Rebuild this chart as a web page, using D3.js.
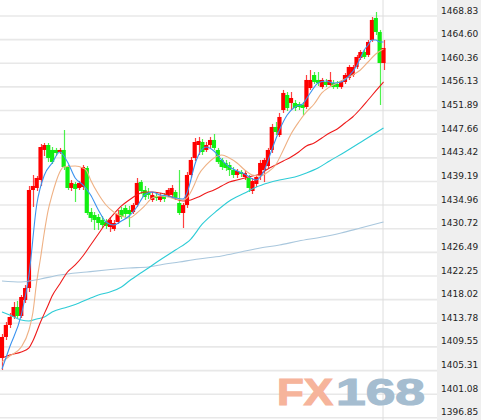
<!DOCTYPE html>
<html><head><meta charset="utf-8">
<script src="https://cdn.jsdelivr.net/npm/d3@7"></script>
<style>html,body{margin:0;padding:0;background:#fff;overflow:hidden}</style>
</head><body><svg id="c" width="481" height="420"></svg>
<script>
const tickLabels = ["1468.83","1464.60","1460.36","1456.13","1451.89","1447.66","1443.42","1439.19","1434.96","1430.72","1426.49","1422.25","1418.02","1413.78","1409.55","1405.31","1401.08","1396.85"];

const opens = [1407.56,1411.33,1413.48,1414.91,1416.70,1415.09,1417.95,1420.10,1437.66,1438.02,
1439.45,1444.83,1445.72,1444.83,1444.83,1444.47,1444.83,1441.78,1438.02,1438.74,
1438.02,1438.20,1441.60,1433.72,1433.18,1432.82,1432.29,1431.93,1431.03,1430.67,
1431.93,1434.08,1434.44,1434.08,1433.72,1434.97,1439.09,1437.66,1437.30,1435.87,
1436.59,1435.87,1436.59,1436.77,1436.77,1437.30,1435.33,1433.54,1434.97,1440.35,
1443.39,1445.72,1446.26,1444.83,1445.72,1446.62,1444.83,1443.04,1442.50,1442.14,
1441.24,1440.35,1440.89,1439.99,1439.81,1437.48,1438.74,1440.17,1441.24,1441.96,
1444.83,1448.95,1447.51,1451.99,1454.68,1453.25,1453.25,1453.07,1452.89,1452.53,
1455.93,1458.26,1457.37,1456.11,1457.01,1456.47,1456.83,1456.65,1456.11,1457.01,
1457.73,1458.26,1459.70,1461.31,1462.38,1461.85,1464.53,1468.48,1465.97,1460.41];
const closes = [1411.33,1413.48,1414.91,1416.70,1415.09,1418.49,1420.10,1437.66,1438.38,1439.81,
1445.36,1445.72,1443.39,1442.68,1444.29,1444.83,1441.78,1438.02,1438.92,1437.84,
1438.92,1441.78,1433.54,1432.65,1432.29,1431.75,1431.39,1431.21,1432.29,1431.75,
1433.36,1432.82,1433.36,1433.36,1434.97,1438.92,1437.48,1436.41,1436.77,1436.77,
1436.23,1436.59,1436.05,1437.66,1438.02,1436.23,1433.54,1434.97,1440.35,1443.04,
1446.26,1446.44,1444.47,1445.72,1446.62,1445.19,1442.68,1441.78,1441.60,1441.24,
1440.35,1441.07,1440.53,1440.71,1438.02,1439.27,1439.99,1442.50,1443.04,1444.83,
1448.95,1448.05,1450.74,1455.04,1452.35,1454.14,1452.35,1452.53,1452.35,1457.37,
1457.37,1457.01,1456.83,1457.37,1456.47,1457.37,1456.11,1456.11,1457.01,1458.26,
1459.70,1459.70,1461.49,1462.38,1461.49,1464.18,1468.12,1465.97,1460.41,1463.10];
const highs = [1411.86,1414.01,1415.63,1417.60,1417.78,1418.85,1420.64,1438.38,1440.35,1440.17,
1445.90,1446.08,1446.08,1445.36,1445.19,1445.19,1448.41,1442.14,1439.45,1439.09,
1439.27,1442.14,1441.96,1434.44,1433.72,1433.36,1433.00,1432.47,1432.82,1432.29,
1434.08,1434.62,1434.97,1434.80,1435.33,1439.81,1439.45,1438.38,1438.02,1437.30,
1437.12,1437.12,1437.12,1438.02,1438.56,1437.66,1441.24,1435.33,1440.89,1443.57,
1446.98,1447.16,1446.80,1446.26,1447.16,1447.69,1445.19,1443.39,1443.04,1442.68,
1441.78,1441.42,1441.24,1441.24,1440.35,1439.81,1440.35,1443.04,1443.39,1445.19,
1449.49,1449.84,1451.46,1455.58,1455.22,1455.22,1453.78,1453.43,1453.43,1458.26,
1459.16,1458.80,1458.80,1457.73,1457.55,1458.80,1457.37,1457.19,1457.37,1458.62,
1460.06,1460.06,1461.85,1462.74,1462.74,1464.53,1468.65,1469.55,1466.33,1464.53];
const lows = [1405.41,1410.79,1412.94,1414.55,1414.73,1414.73,1417.42,1419.39,1434.62,1437.48,
1438.38,1443.75,1442.68,1442.32,1443.75,1444.11,1441.24,1437.66,1437.48,1435.51,
1437.66,1437.66,1433.18,1431.93,1430.50,1430.50,1430.85,1430.67,1430.14,1430.32,
1431.57,1432.47,1432.65,1431.03,1433.36,1434.62,1436.94,1435.87,1436.05,1435.51,
1435.69,1435.51,1435.51,1436.41,1436.41,1435.87,1433.18,1430.85,1434.44,1439.81,
1442.86,1443.93,1443.93,1444.47,1445.19,1444.83,1442.32,1441.24,1441.07,1440.17,
1439.81,1439.81,1439.99,1439.45,1437.30,1436.94,1438.20,1439.45,1439.09,1441.60,
1444.29,1447.51,1447.16,1451.46,1451.81,1451.99,1451.81,1451.99,1451.10,1452.17,
1455.58,1456.65,1456.29,1455.76,1456.11,1456.11,1455.76,1455.76,1455.76,1456.65,
1457.37,1457.91,1459.34,1460.95,1461.13,1461.49,1464.18,1465.43,1452.89,1459.16];

// moving-average lines: [candle index, value]
const ma5 = [[0,1405.59],[2,1409.53],[5,1415.27],[7,1422.43],[9,1434.97],[11,1440.35],[13,1442.50],[15,1444.47],[17,1442.68],[19,1439.81],[21,1438.56],[23,1436.77],[25,1434.08],[27,1431.93],[29,1431.39],[31,1432.11],[33,1433.00],[35,1434.62],[37,1436.77],[39,1437.30],[41,1436.77],[43,1436.59],[45,1436.23],[47,1436.05],[48,1437.12],[49,1439.45],[50,1442.14],[51,1443.93],[53,1445.36],[55,1444.65],[57,1443.04],[59,1441.78],[61,1441.07],[63,1440.53],[65,1439.63],[66,1439.45],[67,1439.99],[68,1441.07],[69,1442.86],[70,1444.83],[72,1448.41],[74,1451.10],[76,1452.53],[78,1453.07],[80,1455.04],[82,1456.83],[84,1457.19],[86,1456.83],[88,1457.01],[90,1458.08],[92,1459.88],[93,1461.31],[94,1462.74],[95,1463.64],[96,1464.53],[97,1464.53],[98,1464.18],[99,1464.18]];
const ma10 = [[0,1406.85],[2,1407.92],[5,1409.53],[7,1412.58],[8,1415.63],[9,1421.18],[10,1425.48],[11,1430.14],[12,1434.08],[13,1436.77],[14,1439.09],[15,1440.89],[16,1441.78],[19,1441.96],[21,1441.60],[22,1441.07],[23,1439.45],[25,1436.94],[27,1434.97],[29,1433.72],[31,1433.00],[33,1432.65],[35,1433.54],[37,1434.80],[39,1436.23],[41,1436.59],[43,1436.41],[45,1436.05],[47,1435.87],[48,1436.23],[49,1437.30],[50,1438.74],[51,1440.35],[53,1442.14],[55,1443.39],[57,1443.93],[59,1443.39],[61,1442.50],[63,1441.24],[65,1440.35],[67,1440.17],[69,1440.89],[71,1442.14],[73,1444.83],[75,1447.69],[77,1449.84],[79,1451.64],[81,1453.07],[83,1455.04],[85,1456.11],[87,1456.83],[89,1457.55],[91,1458.26],[93,1459.16],[95,1460.59],[97,1462.03],[99,1462.92]];
const ma20 = [[0,1407.56],[2,1408.10],[5,1408.64],[7,1409.36],[8,1410.61],[10,1414.01],[12,1417.06],[13,1418.67],[15,1420.82],[17,1422.97],[19,1424.23],[21,1425.84],[23,1427.81],[25,1429.78],[27,1431.75],[29,1433.36],[31,1434.80],[33,1435.87],[35,1436.77],[37,1437.30],[39,1437.30],[41,1437.12],[43,1436.77],[45,1436.05],[47,1435.69],[49,1435.87],[51,1436.41],[53,1437.12],[55,1437.66],[57,1438.38],[59,1439.09],[61,1439.45],[63,1439.81],[65,1440.17],[67,1440.53],[69,1441.42],[71,1442.14],[73,1442.86],[75,1443.57],[77,1444.47],[79,1445.54],[81,1446.08],[83,1446.98],[85,1447.87],[87,1448.59],[89,1449.66],[91,1450.74],[93,1452.17],[95,1453.78],[97,1455.40],[99,1457.01]];
const ma60 = [[0,1415.81],[2,1415.27],[5,1414.37],[7,1414.19],[9,1414.55],[11,1414.91],[13,1415.81],[17,1416.70],[20,1417.42],[23,1418.31],[25,1418.85],[28,1419.39],[31,1420.28],[33,1421.36],[36,1422.79],[38,1423.69],[41,1425.12],[45,1426.91],[49,1428.88],[52,1431.57],[56,1434.08],[59,1435.69],[63,1437.12],[66,1438.20],[69,1438.92],[72,1439.45],[76,1439.99],[79,1440.71],[82,1441.60],[85,1442.86],[89,1444.47],[94,1446.62],[99,1448.77]];
const ma120 = [[0,1421.36],[5,1421.18],[10,1421.72],[15,1422.43],[22,1422.97],[27,1423.33],[33,1423.69],[38,1423.87],[41,1424.23],[46,1424.76],[51,1425.30],[57,1425.84],[62,1426.55],[67,1427.27],[72,1427.81],[77,1428.52],[83,1429.24],[88,1429.96],[93,1430.85],[99,1431.93]];

const svg = d3.select("#c");
const W = 481, H = 420, plotRight = 437;
const y = d3.scaleLinear().domain([1396.85, 1468.83]).range([417.8, 16]);
const x = d3.scaleLinear().domain([0, opens.length - 1]).range([2, 383.5]);
const tickVals = tickLabels.map(Number);

// gridlines
svg.append("g").selectAll("line").data(tickVals).join("line")
  .attr("x1", 0).attr("x2", plotRight)
  .attr("y1", d => y(d)).attr("y2", d => y(d))
  .attr("stroke", "#e8e8e8").attr("stroke-width", 1.6);

// crosshair vertical line at last candle
svg.append("line").attr("x1", x(opens.length - 1) - 0.5).attr("x2", x(opens.length - 1) - 0.5)
  .attr("y1", 0).attr("y2", H).attr("stroke", "#dedede").attr("stroke-width", 1);

// watermark
svg.append("text").attr("x", 277).attr("y", 405).text("FX")
  .attr("font-family", "Liberation Sans, Arial, sans-serif").attr("font-weight", "bold")
  .attr("font-size", 37).attr("textLength", 56).attr("lengthAdjust", "spacingAndGlyphs")
  .attr("fill", "#f6b49b").attr("stroke", "#f6b49b").attr("stroke-width", 1.2);
svg.append("text").attr("x", 336).attr("y", 405).text("168")
  .attr("font-family", "Liberation Sans, Arial, sans-serif").attr("font-weight", "bold")
  .attr("font-size", 37).attr("textLength", 89).attr("lengthAdjust", "spacingAndGlyphs")
  .attr("fill", "#a5bdd0").attr("stroke", "#a5bdd0").attr("stroke-width", 1.2);

// candles
const candles = opens.map((o, i) => ({i, o, c: closes[i], h: highs[i], l: lows[i]}));
const up = "#ff0000", down = "#11ee11";
const g = svg.append("g");
g.selectAll("line.w").data(candles).join("line").attr("class", "w")
  .attr("x1", d => Math.round(x(d.i)) + 0.5).attr("x2", d => Math.round(x(d.i)) + 0.5)
  .attr("y1", d => y(d.h)).attr("y2", d => y(d.l))
  .attr("stroke", d => d.c >= d.o ? up : down).attr("stroke-opacity", 0.75).attr("stroke-width", 1.2);
g.selectAll("rect").data(candles).join("rect")
  .attr("x", d => x(d.i) - 2.1).attr("width", 4.2)
  .attr("y", d => y(Math.max(d.o, d.c)))
  .attr("height", d => Math.max(1.5, Math.abs(y(d.o) - y(d.c))))
  .attr("fill", d => d.c >= d.o ? up : down);

// MA lines
const line = d3.line().x(d => x(d[0])).y(d => y(d[1])).curve(d3.curveMonotoneX);
[[ma120, "#a9c7dd"], [ma60, "#2dccd6"], [ma20, "#ee1a1a"], [ma10, "#efb184"], [ma5, "#3b93f0"]].forEach(([data, col]) => {
  svg.append("path").attr("d", line(data)).attr("fill", "none").attr("stroke", col).attr("stroke-width", 1.1);
});

// right axis panel
svg.append("rect").attr("x", plotRight).attr("y", 0).attr("width", W - plotRight).attr("height", H).attr("fill", "#efefef");
svg.append("g").selectAll("text").data(tickLabels).join("text")
  .attr("x", 441).attr("y", d => y(+d) - 2.5)
  .attr("font-family", "DejaVu Sans, Verdana, sans-serif").attr("font-size", 9)
  .attr("fill", "#222").text(d => d);
</script>
</body></html>
